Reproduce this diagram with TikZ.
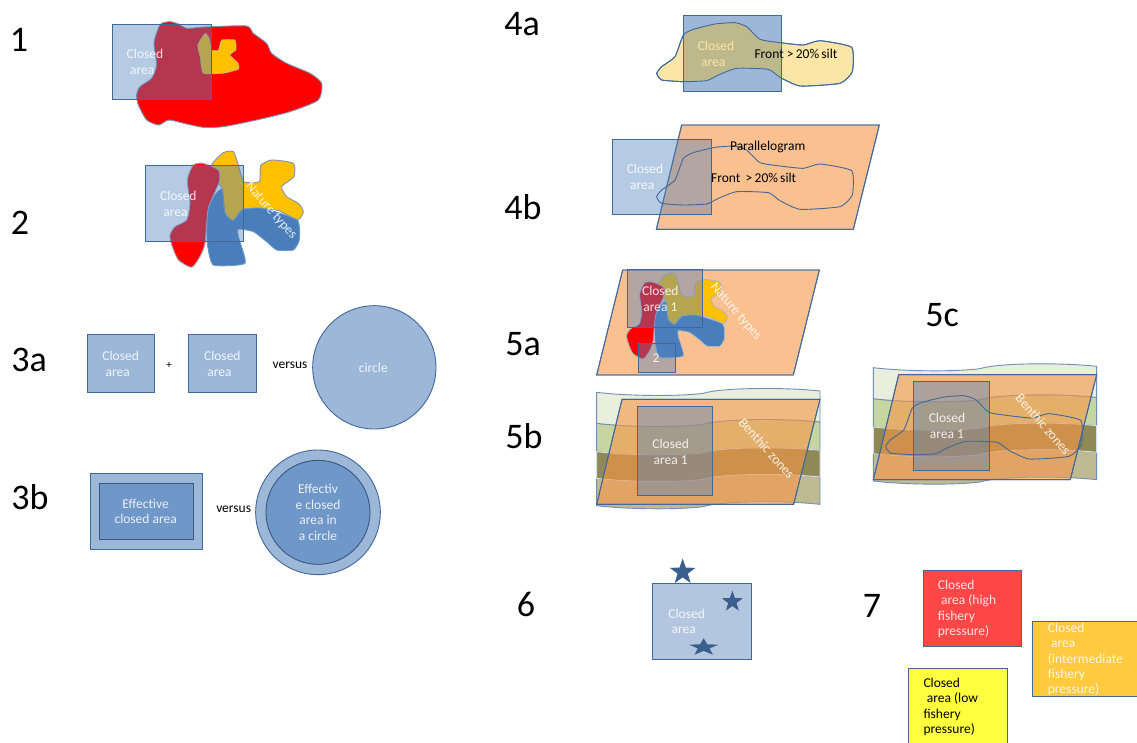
\documentclass[tikz,border=0pt]{standalone}
\usepackage{fontspec}
\setmainfont{Carlito}
\usetikzlibrary{shapes.geometric}
\definecolor{edgeblue}{HTML}{41689A}
\definecolor{officeblue}{HTML}{4F81BD}
\definecolor{solidblue}{HTML}{9DB7D9}
\definecolor{deepblue}{HTML}{6F97C8}
\definecolor{lightblue}{HTML}{B3C6E0}
\definecolor{stonecol}{HTML}{3A5F8F}
\definecolor{siltcol}{HTML}{FBE6A8}
\definecolor{siltover}{HTML}{BDB98C}
\definecolor{orangecol}{HTML}{F79646}
\definecolor{natred}{HTML}{FF0000}
\definecolor{natyellow}{HTML}{FFC000}
\definecolor{natblue}{HTML}{4A7EBB}
\definecolor{bandone}{HTML}{E9EFDC}
\definecolor{bandtwo}{HTML}{C6D6A0}
\definecolor{bandthree}{HTML}{8F8A55}
\definecolor{bandfour}{HTML}{C0BA92}
\definecolor{bandedge}{HTML}{6F8FB8}
\definecolor{bandpale}{HTML}{D5E0EE}
\definecolor{pressred}{HTML}{FF4747}
\definecolor{pressorange}{HTML}{FFC940}
\definecolor{pressyellow}{HTML}{FFFF40}
\tikzset{
  zm/.style 2 args={shift={(#1pt,-#2pt)},x=.33333pt,y=-.33333pt},
  zs/.style 2 args={shift={(#1pt,-#2pt)},x=.2517pt,y=-.2467pt},
  closedbox/.style={draw=edgeblue,line width=.9pt,fill=officeblue,fill opacity=.42},
  solidbox/.style={draw=edgeblue,line width=.9pt,fill=solidblue},
  deepbox/.style={draw=edgeblue!85!black,line width=.9pt,fill=deepblue},
  para/.style={draw=edgeblue,line width=.9pt,fill=orangecol,fill opacity=.6},
  blobline/.style={draw=edgeblue,line width=.9pt},
  wlabel/.style={text=white,text opacity=.85,font=\fontsize{13.5}{15.4}\selectfont,align=left,inner sep=0pt},
  blabel/.style={text=black,font=\fontsize{13.5}{15.4}\selectfont,align=left,inner sep=0pt},
  numlabel/.style={text=black,font=\fontsize{36}{38}\selectfont,inner sep=0pt},
  starshape/.style={star,star points=5,star point ratio=2.5,fill=stonecol,inner sep=0pt},
  pressbox/.style={draw=edgeblue,line width=.9pt},
}
\newcommand{\natYellow}[1]{\draw[#1,fill=natyellow] plot[smooth cycle,tension=.35] coordinates {(365,495)(400,458)(430,455)(445,495)(462,545)(508,545)(512,497)(545,480)(610,490)(612,530)(575,560)(590,590)(625,610)(640,635)(622,660)(560,630)(460,628)(430,662)(405,640)(398,570)(380,540)};}
\newcommand{\natBlue}[1]{\draw[#1,fill=natblue] plot[smooth cycle,tension=.3] coordinates {(395,568)(405,640)(430,662)(460,628)(520,625)(622,660)(628,720)(610,750)(560,750)(530,725)(490,695)(445,687)(445,710)(465,790)(370,795)(352,730)(352,625)(375,585)};}
\newcommand{\natRed}[1]{\draw[#1,fill=natred] plot[smooth cycle,tension=.4] coordinates {(310,495)(340,490)(385,510)(388,545)(355,625)(345,730)(330,770)(305,802)(265,780)(245,735)(240,705)(255,680)(290,660)(300,610)(292,540)};}
\newcommand{\siltpath}{plot[smooth cycle,tension=.3] coordinates {(200,220)(215,200)(255,170)(280,105)(310,88)(375,72)(435,68)(470,80)(510,118)(570,128)(640,135)(690,122)(785,142)(787,215)(750,250)(630,258)(570,232)(535,208)(440,205)(385,225)(350,242)(280,245)(215,240)}}
\newcommand{\bandshape}[4]{\draw[draw=#4,line width=.9pt,fill=#3] (0,#1) .. controls (100,{#1+12}) and (250,{#1+12}) .. (320,{#1+3}) .. controls (370,{#1-14}) and (560,{#1-16}) .. (670,{#1-4}) -- (670,{#2-4}) .. controls (560,{#2-16}) and (370,{#2-14}) .. (320,{#2+3}) .. controls (250,{#2+12}) and (100,{#2+12}) .. (0,#2) -- cycle;}
\newcommand{\allbands}{%
  \bandshape{258}{340}{bandfour}{bandedge}
  \bandshape{93}{178}{bandtwo}{bandedge}
  \bandshape{178}{258}{bandthree}{bandpale}
  \bandshape{0}{93}{bandone}{bandedge}
  \fill[para] (76,21) -- (670,21) -- (591,336) -- (0,336) -- cycle;
  \draw[para,fill=none] (76,21) -- (670,21) -- (591,336) -- (0,336) -- cycle;}
\begin{document}
\begin{tikzpicture}[x=1pt,y=-1pt]
\useasboundingbox (0,0) rectangle (1137,742);
\fill[white] (0,0) rectangle (1137,742);
\clip (0,0) rectangle (1137,742);
% numbers
\node[numlabel] (n1) at (19,40) {1};
\node[numlabel] (n2) at (20,223) {2};
\node[numlabel] (n3a) at (29,360) {3a};
\node[numlabel] (n3b) at (30,497) {3b};
\node[numlabel] (n4a) at (522,24) {4a};
\node[numlabel] (n4b) at (523,207) {4b};
\node[numlabel] (n5a) at (523,344) {5a};
\node[numlabel] (n5b) at (524,436) {5b};
\node[numlabel] (n5c) at (942,315) {5c};
\node[numlabel] (n6) at (526,604) {6};
\node[numlabel] (n7) at (872,606) {7};
% 1 and 2
\begin{scope}[zm={90}{0}]
  \draw[blobline,draw=edgeblue!70,fill=natred] plot[smooth cycle,tension=.4] coordinates {(215,70)(240,65)(265,72)(290,85)(330,82)(365,80)(470,78)(490,100)(530,130)(545,160)(590,190)(660,220)(695,250)(685,300)(600,335)(500,360)(400,380)(340,382)(290,372)(240,360)(225,365)(205,375)(170,360)(145,315)(140,285)(150,260)(185,235)(200,195)(192,130)(205,85)};
  \draw[fill=natyellow,draw=edgeblue!50] plot[smooth cycle,tension=.3] coordinates {(345,100)(358,115)(365,150)(385,150)(395,120)(435,120)(438,150)(420,165)(445,190)(445,208)(400,220)(340,220)(330,170)(323,135)};
  \draw[closedbox] (67,72) rectangle (364,298);
  \node[wlabel] (t1) at (165,185) {Closed\\\hspace*{3.3pt}area};
  \natYellow{blobline,draw=edgeblue!70}
  \natBlue{blobline,draw=natblue!80!white}
  \natRed{blobline,draw=edgeblue!50}
  \draw[closedbox] (165,496) rectangle (461,725);
  \node[wlabel] (t2) at (265,612) {Closed\\\hspace*{3.3pt}area};
  \node[wlabel,rotate=-49] (nt2) at (543,633) {Nature types};
\end{scope}
% 3a and 3b
\begin{scope}[zm={70}{300}]
  \draw[solidbox] (52,103) rectangle (253,277);
  \draw[solidbox] (356,103) rectangle (558,277);
  \draw[solidbox] (913,202) circle (185);
  \node[wlabel] (t3a) at (152,192) {Closed\\\hspace*{3.3pt}area};
  \node[wlabel] (t3b) at (457,192) {Closed\\\hspace*{3.3pt}area};
  \node[wlabel] (t3c) at (910,203) {circle};
  \node[blabel,font=\fontsize{11}{13}\selectfont] (plus) at (297,195) {+};
  \node[blabel] (v1) at (660,195) {versus};
  \draw[solidbox] (60,521) rectangle (396,747);
  \draw[deepbox] (88,551) rectangle (369,717);
  \node[wlabel,align=center] (t3d) at (227,635) {Effective\\closed area};
  \draw[solidbox] (744,637) circle (187);
  \draw[deepbox] (744,637) circle (156);
  \node[wlabel,align=center] (t3e) at (744,637) {Effectiv\\e closed\\area in\\a circle};
  \node[blabel] (v2) at (491,628) {versus};
\end{scope}
% 4a and 4b
\begin{scope}[zm={590}{0}]
  \draw[blobline,fill=siltcol] \siltpath;
  \fill[solidblue] (281,47) rectangle (575,274);
  \begin{scope}
    \clip \siltpath;
    \fill[siltover] (281,47) rectangle (575,274);
  \end{scope}
  \draw[blobline] \siltpath;
  \draw[draw=edgeblue,line width=.9pt] (281,47) rectangle (575,274);
  \node[wlabel,text=siltcol,text opacity=1] (t4a) at (378,161) {Closed\\\hspace*{3.3pt}area};
  \node[blabel] (f4a) at (618,162) {Front >\,20\%\,silt};
  \fill[para] (275,375) -- (868,375) -- (790,688) -- (199,688) -- cycle;
  \draw[para,fill=none] (275,375) -- (868,375) -- (790,688) -- (199,688) -- cycle;
  \draw[closedbox] (67,417) rectangle (364,643);
  \begin{scope}[shift={(0,370)}]
    \draw[blobline] \siltpath;
  \end{scope}
  \node[wlabel] (t4b) at (165,531) {Closed\\\hspace*{3.3pt}area};
  \node[blabel] (p4b) at (533,440) {Parallelogram};
  \node[blabel] (f4b) at (491,535) {Front \,>\,20\%\,silt};
\end{scope}
% 5a
\begin{scope}[zm={590}{260}]
  \fill[para] (98,30) -- (688,30) -- (610,345) -- (20,345) -- cycle;
  \draw[para,fill=none] (98,30) -- (688,30) -- (610,345) -- (20,345) -- cycle;
\end{scope}
\begin{scope}[zs={566.27}{161.1}]
  \natYellow{draw=solidblue,line width=.7pt}
  \natBlue{draw=solidblue,line width=.7pt}
  \natRed{draw=solidblue,line width=.7pt}
\end{scope}
\begin{scope}[zm={590}{260}]
  \draw[closedbox] (111,28) rectangle (337,202);
  \draw[closedbox] (145,250) rectangle (257,337);
  \node[wlabel,align=center] (t5a) at (211,117) {Closed\\area 1};
  \node[wlabel] (t5a2) at (198,295) {2};
  \node[wlabel,rotate=-49] (nt5) at (437,155) {Nature types};
\end{scope}
% 5b
\begin{scope}[zm={596.67}{392.33}]
  \allbands
  \draw[closedbox] (121,43) rectangle (347,308);
  \node[wlabel,align=center] (t5b) at (222,178) {Closed\\area 1};
  \node[wlabel,rotate=-48] (bz5b) at (510,168) {Benthic zones};
\end{scope}
% 5c
\begin{scope}[zm={873.33}{367.67}]
  \allbands
\end{scope}
\begin{scope}[zm={860}{350}]
  \draw[closedbox] (161,94) rectangle (387,362);
  \begin{scope}[shift={(-123,69)}]
    \draw[blobline] \siltpath;
  \end{scope}
  \node[wlabel,align=center] (t5c) at (261,228) {Closed\\area 1};
  \node[wlabel,rotate=-49] (bz5c) at (550,222) {Benthic zones};
\end{scope}
% 6 and 7
\begin{scope}[zm={640}{550}]
  \draw[solidbox,fill=lightblue] (37,100) rectangle (334,327);
  \node[wlabel] (t6) at (140,214) {Closed\\\hspace*{3.3pt}area};
  \node[starshape,minimum size=27pt] (s1) at (128,66) {};
  \node[starshape,minimum size=22pt] (s2) at (277,155) {};
  \node[starshape,minimum size=24pt,xscale=1.3,yscale=.75] (s3) at (191,292) {};
  \draw[pressbox,fill=pressred] (849,61) rectangle (1144,288);
  \node[wlabel,anchor=north west] (t7a) at (893,89) {Closed\\\hspace*{3.3pt}area (high\\fishery\\pressure)};
  \draw[pressbox,fill=pressorange] (1178,214) rectangle (1495,439);
  \node[wlabel,anchor=north west] (t7b) at (1223,218) {Closed\\\hspace*{3.3pt}area\\(intermediate\\fishery\\pressure)};
  \draw[pressbox,fill=pressyellow] (806,354) rectangle (1102,600);
  \node[blabel,anchor=north west] (t7c) at (850,383) {Closed\\\hspace*{3.3pt}area (low\\fishery\\pressure)};
\end{scope}
\end{tikzpicture}
\end{document}
